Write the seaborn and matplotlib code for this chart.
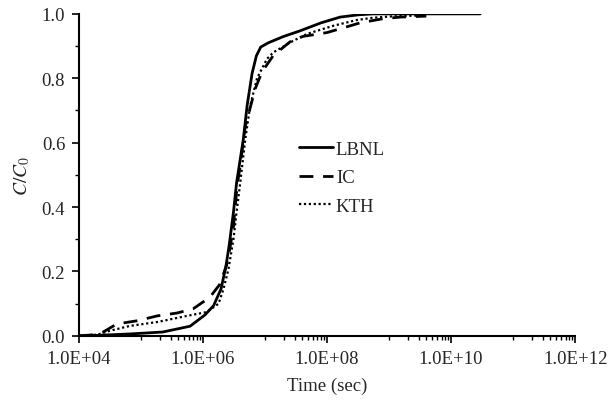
import numpy as np
import pandas as pd
import seaborn as sns
import matplotlib.pyplot as plt
from matplotlib.ticker import FixedLocator, FixedFormatter, MultipleLocator

lbnl_logt = [4.0, 4.34, 4.82, 5.35, 5.79, 6.03, 6.17, 6.29, 6.37, 6.42, 6.49, 6.54,
             6.65, 6.71, 6.79, 6.86, 6.93, 7.05, 7.3, 7.56, 7.9, 8.21, 8.5, 8.74, 10.47]
lbnl_c = [0.0, 0.002, 0.006, 0.012, 0.03, 0.065, 0.094, 0.146, 0.218, 0.28, 0.384, 0.475,
          0.612, 0.715, 0.815, 0.87, 0.897, 0.91, 0.93, 0.947, 0.972, 0.99, 0.997, 1.0, 1.0]

ic_logt = [4.0, 4.2, 4.39, 4.61, 4.94, 5.26, 5.58, 5.84, 6.11, 6.27, 6.38, 6.44, 6.49,
           6.52, 6.55, 6.6, 6.68, 6.84, 6.95, 7.13, 7.40, 7.61, 8.0, 8.32, 8.53, 8.90,
           9.18, 9.60]
ic_c = [0.0, 0.003, 0.012, 0.037, 0.047, 0.062, 0.071, 0.084, 0.12, 0.16, 0.22, 0.28, 0.34,
        0.405, 0.467, 0.53, 0.65, 0.767, 0.82, 0.87, 0.913, 0.93, 0.942, 0.96, 0.972, 0.985,
        0.99, 0.993]

kth_logt = [4.0, 4.3, 4.5, 4.82, 5.26, 5.74, 6.06, 6.25, 6.33, 6.41, 6.49, 6.54, 6.6,
            6.68, 6.76, 6.87, 7.03, 7.13, 7.45, 7.68, 8.10, 8.48, 8.74, 9.02, 9.5]
kth_c = [0.0, 0.004, 0.016, 0.031, 0.043, 0.062, 0.074, 0.1, 0.146, 0.208, 0.30, 0.384,
         0.477, 0.61, 0.715, 0.80, 0.86, 0.88, 0.916, 0.938, 0.963, 0.981, 0.988, 0.992, 0.995]

xtick_labels = ['1.0E+04', '1.0E+06', '1.0E+08', '1.0E+10', '1.0E+12']

frames = []
for name, lt, c in [('LBNL', lbnl_logt, lbnl_c), ('IC', ic_logt, ic_c), ('KTH', kth_logt, kth_c)]:
    frames.append(pd.DataFrame({'time': 10 ** np.array(lt), 'c': c, 'model': name}))
df = pd.concat(frames, ignore_index=True)

sns.set_style('white')
plt.rcParams['font.family'] = ['Liberation Serif', 'DejaVu Serif']
plt.rcParams['mathtext.fontset'] = 'stix'

fig = plt.figure(figsize=(6.08, 4.02), dpi=100)
ax = fig.add_axes([0.13, 0.162, 0.816, 0.801])

styles = {'LBNL': dict(linestyle='-', linewidth=2.0),
          'IC': dict(linestyle=(0, (5, 3.5)), linewidth=2.0),
          'KTH': dict(linestyle=(0, (1, 1.2)), linewidth=1.6)}
for name in ['LBNL', 'IC', 'KTH']:
    sns.lineplot(data=df[df['model'] == name], x='time', y='c', ax=ax, color='black',
                 label=name, estimator=None, sort=False, **styles[name])

ax.set_xscale('log')
ax.set_xlim(1e4, 1e12)
ax.set_ylim(0, 1.0)

major = [1e4, 1e6, 1e8, 1e10, 1e12]
ax.xaxis.set_major_locator(FixedLocator(major))
ax.xaxis.set_major_formatter(FixedFormatter(xtick_labels))
minor = [m * 10 ** (k + 1) for k in [4, 6, 8, 10] for m in range(1, 10)]
ax.xaxis.set_minor_locator(FixedLocator(minor))
ax.xaxis.set_minor_formatter(FixedFormatter([''] * len(minor)))
ax.yaxis.set_minor_locator(MultipleLocator(0.1))
ax.set_yticks([0, 0.2, 0.4, 0.6, 0.8, 1.0])
ax.set_yticklabels(['0.0', '0.2', '0.4', '0.6', '0.8', '1.0'])

ax.tick_params(axis='both', which='major', direction='out', length=5, width=1.2,
               labelsize=13.5, color='black', left=True, bottom=True, pad=5)
ax.tick_params(axis='both', which='minor', direction='out', length=3, width=1.0,
               color='black', left=True, bottom=True)

for s in ['top', 'right']:
    ax.spines[s].set_visible(False)
for s in ['left', 'bottom']:
    ax.spines[s].set_color('black')
    ax.spines[s].set_linewidth(1.5)

ax.set_xlabel('Time (sec)', fontsize=13.5, labelpad=7)
ax.set_ylabel(r'$C/C_0$', fontsize=14, labelpad=7)

ax.legend(loc='upper left', bbox_to_anchor=(0.444, 0.607), frameon=False, fontsize=13.5,
          handlelength=1.8, handletextpad=0.15, labelspacing=0.62, borderaxespad=0,
          borderpad=0)

fig.savefig('out.png', dpi=100)
